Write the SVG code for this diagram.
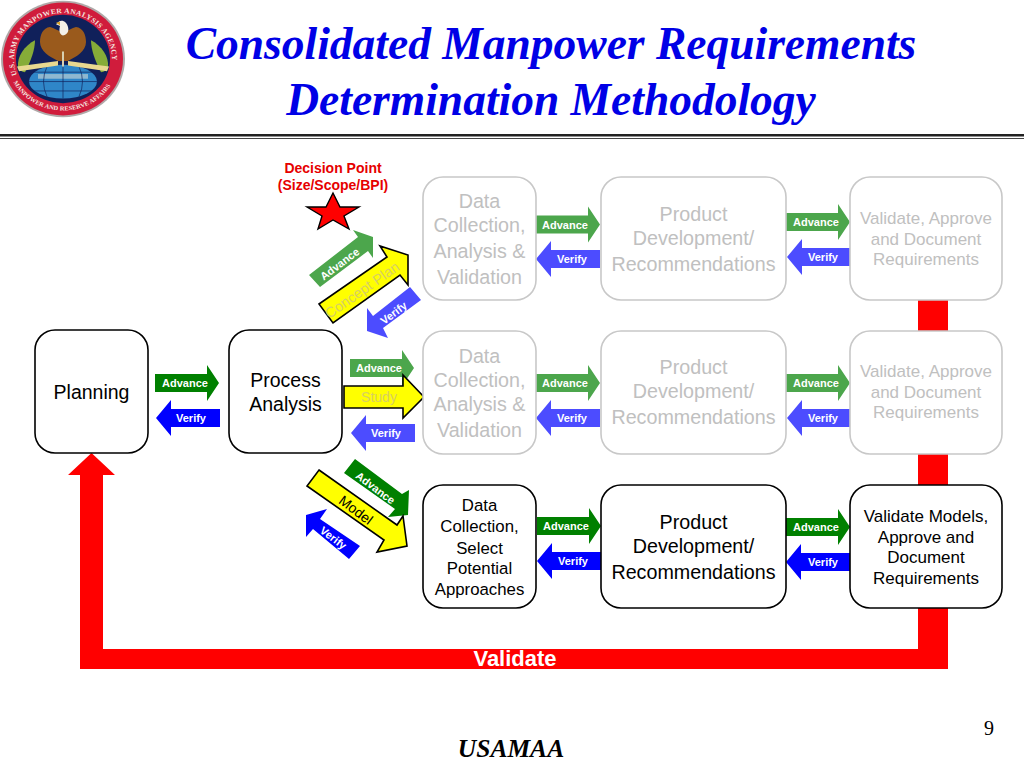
<svg xmlns="http://www.w3.org/2000/svg" width="1024" height="768" viewBox="0 0 1024 768">
<style>
text{font-family:"Liberation Sans",Arial,sans-serif;text-anchor:middle}
.title{font-family:"Liberation Serif","Times New Roman",serif;font-weight:bold;font-style:italic;font-size:45.500px;fill:#0000e6}
.box{fill:#fff;stroke:#000;stroke-width:1.6}
.gbox{fill:#fff;stroke:#c8c8c8;stroke-width:1.6}
.t{fill:#000}
.g{fill:#c0c0c0}
.lab{fill:#fff;font-weight:bold;font-size:11px}
.ga{fill:#4ca64c}.fv{fill:#4c4cff}.sa{fill:#008000}.sv{fill:#0000ff}
.y{fill:#ffff00;stroke:#000;stroke-width:1.6}
.lg{font-weight:bold;fill:#f4e8e0;font-family:"Liberation Serif",serif;text-anchor:start}
</style>
<defs>
<path id="ar" d="M0 -9H52V-18L64 0L52 18V9H0Z"/>
<path id="al" d="M64 -9H15V-18L0 0L15 18V9H64Z"/>
<path id="ringTop" d="M17 75A49 49 0 1 1 110 72"/>
<path id="ringBot" d="M12 80A56 56 0 0 0 114 80"/>
</defs>
<rect width="1024" height="768" fill="#fff"/>
<g id="logo" transform="translate(63 59) scale(1 .94) translate(-63 -58)">
<circle cx="63" cy="58" r="62" fill="#b0a8a8"/>
<circle cx="63" cy="58" r="60" fill="#d01c3c"/>
<circle cx="63" cy="58" r="47" fill="#10205a"/>
<text class="lg" font-size="7.500"><textPath href="#ringTop" textLength="172">U.S. ARMY MANPOWER ANALYSIS AGENCY</textPath></text>
<text class="lg" font-size="6.500"><textPath href="#ringBot" startOffset="3" textLength="118">MANPOWER AND RESERVE AFFAIRS</textPath></text>
<path d="M18 66C17 56 24 44 35 38C35 48 31 60 25 72C22 72 19 70 18 66Z" fill="#86ac38"/>
<path d="M108 66C109 56 102 44 91 38C91 48 95 60 101 72C104 72 107 70 108 66Z" fill="#86ac38"/>
<path d="M50 24C43 25 40 32 40 40C40 50 50 56 58 60H68C76 56 86 50 86 40C86 32 83 25 76 24C72 25 68 28 63 30C58 28 54 25 50 24Z" fill="#9a5a1c"/>
<path d="M59 18C63 16 67 19 68 24C69 28 68 32 63 33C59 32 59 27 60 23L56 21Z" fill="#f4f0e8"/>
<path d="M56 19.500L60 18.500V22Z" fill="#d8a020"/>
<ellipse cx="63" cy="82" rx="34" ry="18" fill="#2f86c8"/>
<rect x="38" y="74" width="50" height="5" fill="#8fb8d0"/>
<path d="M29 82H97M33 72H93M33 92H93M63 64V100M47 66Q40 82 47 98M79 66Q86 82 79 98" stroke="#10205a" stroke-width=".7" fill="none"/>
<path d="M17 66L58 60V65L19 71Z" fill="#e8d890"/><path d="M109 66L68 60V65L107 71Z" fill="#e8d890"/>
<rect x="62" y="50" width="2" height="16" fill="#d8d0b0"/>
</g>
<g id="heading">
<text class="title" x="551" y="59">Consolidated Manpower Requirements</text>
<text class="title" x="551" y="115">Determination Methodology</text>
<rect y="134" width="1024" height="2.500" fill="#222"/>
<rect y="138" width="1024" height="1" fill="#444"/>
</g>
<g id="connectors">
<path id="validate-loop" d="M918 300H948V669H80V475H68L91.500 453L115 475H103V649H918Z" fill="#ff0000"/>
<text x="515" y="666" style="font-size:22px;font-weight:bold;fill:#fff">Validate</text>

<use href="#ar" class="sa" x="155" y="383"/><text class="lab" x="185" y="387">Advance</text>
<use href="#al" class="sv" x="156" y="418"/><text class="lab" x="191" y="422">Verify</text>

<use href="#ar" class="ga" x="536" y="224.500"/><text class="lab" x="565" y="229">Advance</text>
<use href="#al" class="fv" x="536" y="259"/><text class="lab" x="572" y="263">Verify</text>
<use href="#ar" class="ga" x="786" y="222"/><text class="lab" x="816" y="226">Advance</text>
<use href="#al" class="fv" x="787" y="257"/><text class="lab" x="823" y="261">Verify</text>

<use href="#ar" class="ga" x="536" y="383"/><text class="lab" x="565" y="387">Advance</text>
<use href="#al" class="fv" x="536" y="418"/><text class="lab" x="572" y="422">Verify</text>
<use href="#ar" class="ga" x="786" y="383"/><text class="lab" x="816" y="387">Advance</text>
<use href="#al" class="fv" x="787" y="418"/><text class="lab" x="823" y="422">Verify</text>

<use href="#ar" class="sa" x="537" y="526"/><text class="lab" x="566" y="530">Advance</text>
<use href="#al" class="sv" x="537" y="561"/><text class="lab" x="573" y="565">Verify</text>
<use href="#ar" class="sa" x="786" y="527"/><text class="lab" x="816" y="531">Advance</text>
<use href="#al" class="sv" x="786" y="562"/><text class="lab" x="823" y="566">Verify</text>

<use href="#ar" class="ga" x="350" y="368"/><text class="lab" x="379" y="372">Advance</text>
<polygon class="y" points="344,386 403,386 403,375 424,397 403,418 403,408 344,408"/>
<text x="379" y="402" style="font-size:14px;fill:#d8d060">Study</text>
<use href="#al" class="fv" x="351" y="433"/><text class="lab" x="386" y="437">Verify</text>

<polygon class="ga" points="309,275 358,237 353,230 373,237 373,258 368,251 320,287"/>
<text class="lab" transform="translate(342 267) rotate(-37)">Advance</text>
<polygon class="y" points="319,304 387,257 380,246 408,255 408,285 400,275 333,323"/>
<text transform="translate(365 294) rotate(-35)" style="font-size:14.500px;fill:#d8d060">Concept Plan</text>
<polygon class="fv" points="410,287 421,300 383,328 388,338 367,331 367,308 373,316"/>
<text class="lab" transform="translate(396 316) rotate(-37)">Verify</text>

<polygon class="sa" points="355,459 402,494 409,490 408,515 388,517 395,509 344,473"/>
<text class="lab" transform="translate(373 491) rotate(37)">Advance</text>
<polygon class="y" points="319,470 397,525 403,516 407,546 377,552 384,540 307,486"/>
<text transform="translate(353 514) rotate(37)" style="font-size:14px;fill:#000">Model</text>
<polygon class="sv" points="306,515 327,509 320,519 360,546 349,559 313,529 306,537"/>
<text class="lab" transform="translate(331 541) rotate(37)">Verify</text>
</g>
<g id="decision-point">
<polygon points="333,193 340,207 359,207 344,216 349,229 333,220 318,229 322,216 307,207 326,207" fill="#ff0000" stroke="#000" stroke-width="1.400"/>
<text x="333" y="173" style="font-size:14px;font-weight:bold;fill:#e60000">Decision Point</text>
<text x="333" y="190" style="font-size:14px;font-weight:bold;fill:#e60000">(Size/Scope/BPI)</text>
</g>
<g id="planning"><rect class="box" x="35" y="330" width="113" height="123" rx="20"/><text class="t" x="91.500" y="399" font-size="19.500">Planning</text></g>
<g id="process-analysis"><rect class="box" x="229" y="330" width="113" height="123" rx="20"/><text class="t" x="285.500" y="387" font-size="19.500">Process</text><text class="t" x="285.500" y="411" font-size="19.500">Analysis</text></g>
<g id="data-1" font-size="19.700"><rect class="gbox" x="423" y="177" width="113" height="123" rx="20"/><text class="g" x="479.500" y="208">Data</text><text class="g" x="479.500" y="232">Collection,</text><text class="g" x="479.500" y="258">Analysis &amp;</text><text class="g" x="479.500" y="284">Validation</text></g>
<g id="product-1" font-size="19.700"><rect class="gbox" x="601" y="177" width="185" height="123" rx="20"/><text class="g" x="693.500" y="221">Product</text><text class="g" x="693.500" y="245">Development/</text><text class="g" x="693.500" y="271">Recommendations</text></g>
<g id="validate-1" font-size="17"><rect class="gbox" x="850" y="177" width="152" height="123" rx="20"/><text class="g" x="926" y="224">Validate, Approve</text><text class="g" x="926" y="245">and Document</text><text class="g" x="926" y="265">Requirements</text></g>
<g id="data-2" font-size="19.700"><rect class="gbox" x="423" y="331" width="113" height="123" rx="20"/><text class="g" x="479.500" y="363">Data</text><text class="g" x="479.500" y="387">Collection,</text><text class="g" x="479.500" y="411">Analysis &amp;</text><text class="g" x="479.500" y="437">Validation</text></g>
<g id="product-2" font-size="19.700"><rect class="gbox" x="601" y="331" width="185" height="123" rx="20"/><text class="g" x="693.500" y="374">Product</text><text class="g" x="693.500" y="398">Development/</text><text class="g" x="693.500" y="424">Recommendations</text></g>
<g id="validate-2" font-size="17"><rect class="gbox" x="850" y="331" width="152" height="123" rx="20"/><text class="g" x="926" y="377">Validate, Approve</text><text class="g" x="926" y="398">and Document</text><text class="g" x="926" y="418">Requirements</text></g>
<g id="data-3" font-size="16.800"><rect class="box" x="423" y="485" width="113" height="123" rx="20"/><text class="t" x="479.500" y="511">Data</text><text class="t" x="479.500" y="532">Collection,</text><text class="t" x="479.500" y="554">Select</text><text class="t" x="479.500" y="574">Potential</text><text class="t" x="479.500" y="595">Approaches</text></g>
<g id="product-3" font-size="19.700"><rect class="box" x="601" y="485" width="185" height="123" rx="20"/><text class="t" x="693.500" y="529">Product</text><text class="t" x="693.500" y="553">Development/</text><text class="t" x="693.500" y="579">Recommendations</text></g>
<g id="validate-3" font-size="17"><rect class="box" x="850" y="485" width="152" height="123" rx="20"/><text class="t" x="926" y="522">Validate Models,</text><text class="t" x="926" y="543">Approve and</text><text class="t" x="926" y="563">Document</text><text class="t" x="926" y="584">Requirements</text></g>
<g id="footer">
<text x="511" y="757" style="font-family:'Liberation Serif',serif;font-weight:bold;font-style:italic;font-size:25.500px">USAMAA</text>
<text x="989" y="735" style="font-family:'Liberation Serif',serif;font-size:20px">9</text>
</g>
</svg>
